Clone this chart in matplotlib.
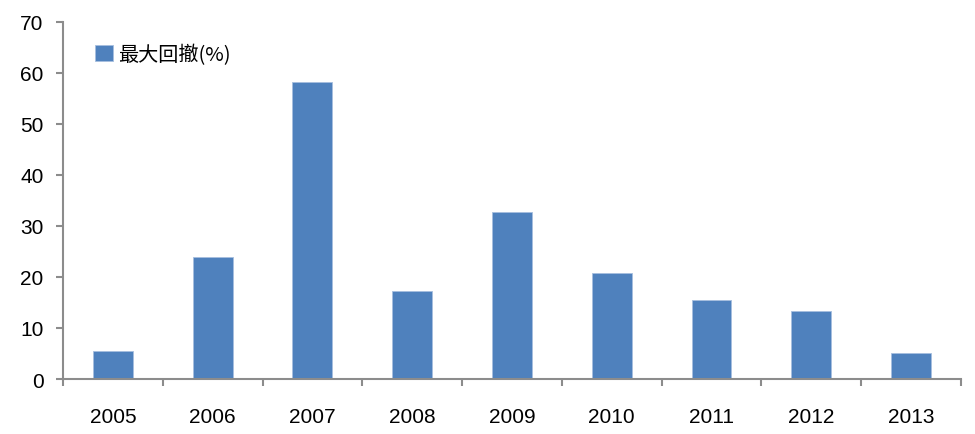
import matplotlib
matplotlib.use("Agg")
import matplotlib.pyplot as plt
import numpy as np

years = ["2005", "2006", "2007", "2008", "2009", "2010", "2011", "2012", "2013"]
max_drawdown = [5.4, 23.9, 58.2, 17.2, 32.7, 20.8, 15.5, 13.3, 5.0]
series_label = "最大回撤(%)"
y_ticks = [0, 10, 20, 30, 40, 50, 60, 70]

plt.rcParams['font.family'] = ['Liberation Sans', 'Noto Sans CJK SC', 'DejaVu Sans']

fig = plt.figure(figsize=(9.75, 4.35), dpi=100)
ax = fig.add_axes([0.0646, 0.1264, 0.9210, 0.8214])

x = np.arange(len(years))
ax.bar(x, max_drawdown, width=0.4, color='#4F81BD', edgecolor='#A6BEDF',
       linewidth=0.6, label=series_label, zorder=2)

ax.set_xlim(-0.5, len(years) - 0.5)
ax.set_ylim(0, 70)
ax.set_yticks(y_ticks)
ax.set_yticklabels([str(v) for v in y_ticks], fontsize=15)

ax.set_xticks(x)
ax.set_xticklabels(years, fontsize=15)
ax.tick_params(axis='x', which='major', length=0, pad=20)
ax.set_xticks(np.arange(-0.5, len(years), 1.0), minor=True)
ax.tick_params(axis='x', which='minor', length=5, width=1.5, color='#8C8C8C', direction='out')
ax.tick_params(axis='y', length=5, width=1.5, color='#8C8C8C', direction='out', pad=9)

for s in ['top', 'right']:
    ax.spines[s].set_visible(False)
for s in ['left', 'bottom']:
    ax.spines[s].set_color('#8C8C8C')
    ax.spines[s].set_linewidth(1.5)

leg = ax.legend(loc='upper left', bbox_to_anchor=(0.016, 0.99), frameon=False,
                handlelength=0.85, handleheight=0.85, handletextpad=0.25,
                prop={'family': ['Noto Sans CJK SC', 'Liberation Sans'], 'size': 14.5})

fig.savefig("out.png", dpi=100)
